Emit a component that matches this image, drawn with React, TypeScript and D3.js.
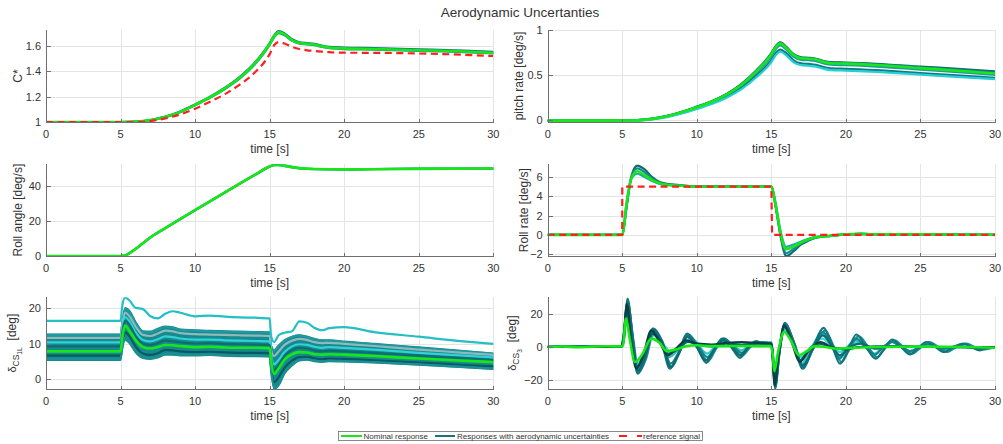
import React from "react";
import * as d3 from "d3";

type Pt = [number, number];

const WIDTH = 1003;
const HEIGHT = 444;

const figureTitle = "Aerodynamic Uncertanties";
const timeLabel = "time [s]";
const timeTicks = [0, 5, 10, 15, 20, 25, 30];
const legendLabels = ["Nominal response", "Responses with aerodynamic uncertainties", "reference signal"];

const NOMINAL = "#19e619";
const REFERENCE = "#ff1f1f";
const RUN_LEGEND = "#16747c";

// ---------- C* ----------
const cstarTime = [0, 5, 6, 7, 8, 9, 10, 11, 12, 13, 14, 15, 15.3, 15.6, 16, 16.5, 17, 17.5, 18, 18.5, 19, 20, 22, 25, 28, 30];
const cstarNominal = [1, 1, 1.003, 1.015, 1.04, 1.08, 1.135, 1.195, 1.265, 1.35, 1.46, 1.615, 1.675, 1.708, 1.69, 1.645, 1.622, 1.616, 1.61, 1.596, 1.586, 1.58, 1.575, 1.566, 1.556, 1.545];
const cstarReference = [1, 1, 1.0, 1.008, 1.028, 1.06, 1.105, 1.16, 1.22, 1.295, 1.39, 1.535, 1.605, 1.63, 1.618, 1.592, 1.575, 1.565, 1.56, 1.555, 1.55, 1.546, 1.545, 1.54, 1.53, 1.52];
const cstarRunHigh = [1, 1, 1.003, 1.016, 1.042, 1.083, 1.138, 1.199, 1.27, 1.356, 1.467, 1.622, 1.682, 1.716, 1.698, 1.652, 1.628, 1.622, 1.616, 1.602, 1.592, 1.587, 1.582, 1.573, 1.563, 1.553];
const cstarRunLow = [1, 1, 1.002, 1.014, 1.038, 1.077, 1.131, 1.19, 1.26, 1.344, 1.453, 1.607, 1.667, 1.7, 1.683, 1.639, 1.617, 1.611, 1.605, 1.591, 1.581, 1.575, 1.57, 1.561, 1.551, 1.54];

// ---------- pitch rate ----------
const pitchTime = [0, 5, 6, 7, 8, 9, 10, 11, 12, 13, 14, 15, 15.3, 15.6, 16, 16.5, 17, 17.5, 18, 18.5, 19, 20, 22, 25, 28, 30];
const pitchNominal = [-0.01, -0.01, -0.005, 0.01, 0.04, 0.085, 0.14, 0.2, 0.28, 0.39, 0.54, 0.73, 0.81, 0.85, 0.8, 0.72, 0.685, 0.68, 0.67, 0.645, 0.63, 0.625, 0.61, 0.575, 0.54, 0.515];
const pitchRunHigh = [-0.01, -0.01, -0.004, 0.012, 0.043, 0.089, 0.146, 0.207, 0.288, 0.4, 0.552, 0.742, 0.822, 0.862, 0.812, 0.73, 0.695, 0.69, 0.68, 0.655, 0.642, 0.638, 0.624, 0.592, 0.562, 0.538];
const pitchRunHigh2 = [-0.01, -0.01, -0.005, 0.011, 0.041, 0.087, 0.143, 0.204, 0.284, 0.395, 0.546, 0.736, 0.816, 0.856, 0.806, 0.725, 0.69, 0.686, 0.676, 0.651, 0.637, 0.632, 0.618, 0.585, 0.552, 0.528];
const pitchRunMid = [-0.012, -0.012, -0.006, 0.009, 0.037, 0.081, 0.135, 0.194, 0.272, 0.378, 0.525, 0.71, 0.788, 0.828, 0.782, 0.702, 0.668, 0.663, 0.653, 0.628, 0.613, 0.608, 0.593, 0.558, 0.524, 0.5];
const pitchRunLow = [-0.014, -0.014, -0.008, 0.006, 0.033, 0.075, 0.127, 0.184, 0.258, 0.357, 0.495, 0.668, 0.745, 0.782, 0.742, 0.662, 0.628, 0.622, 0.612, 0.588, 0.572, 0.567, 0.552, 0.52, 0.488, 0.467];
const pitchRunLowest = [-0.016, -0.016, -0.01, 0.004, 0.03, 0.07, 0.12, 0.175, 0.246, 0.342, 0.474, 0.642, 0.72, 0.758, 0.718, 0.64, 0.607, 0.602, 0.592, 0.568, 0.553, 0.548, 0.534, 0.503, 0.472, 0.452];

// ---------- roll angle ----------
const rollTime = [0, 5, 5.3, 5.6, 6, 6.5, 7, 8, 10, 12, 14, 15, 15.3, 15.6, 16, 16.5, 17, 18, 20, 22, 25, 30];
const rollNominal = [0, 0, 0.3, 1.6, 4.0, 7.3, 10.6, 15.9, 26.2, 36.3, 46.3, 51.1, 52, 52.1, 51.6, 50.8, 50.2, 49.7, 49.5, 49.6, 49.8, 50];
const rollRunA = [0, 0, 0.25, 1.5, 3.9, 7.2, 10.5, 15.8, 26.1, 36.2, 46.2, 51, 52.1, 52.3, 51.8, 50.9, 50.2, 49.6, 49.4, 49.6, 49.8, 50];
const rollRunB = [0, 0, 0.35, 1.7, 4.1, 7.4, 10.7, 16, 26.3, 36.4, 46.4, 51.2, 51.9, 51.9, 51.4, 50.6, 50.1, 49.7, 49.6, 49.7, 49.9, 50];

// ---------- roll rate ----------
const rateTime = [0, 5, 5.3, 5.6, 6, 6.5, 7, 7.5, 8, 9, 10, 12, 15, 15.3, 15.6, 16, 16.5, 17, 17.5, 18, 19, 20, 21, 22, 25, 30];
const rateNominal = [0, 0, 3.3, 5.8, 6.6, 6.2, 5.7, 5.35, 5.2, 5.1, 5.0, 5.0, 5.0, 3.0, 0.3, -1.5, -1.2, -0.8, -0.45, -0.25, -0.1, 0.05, 0.1, 0.05, 0.05, 0];
const rateRunHigh = [0, 0, 3.0, 6.0, 7.2, 6.8, 6.0, 5.5, 5.3, 5.15, 5.0, 5.0, 5.0, 2.8, 0.0, -2.2, -1.7, -1.0, -0.6, -0.3, -0.1, 0.05, 0.1, 0.05, 0.05, 0];
const rateRunMid = [0, 0, 3.1, 5.9, 6.9, 6.5, 5.85, 5.42, 5.25, 5.12, 5.0, 5.0, 5.0, 2.9, 0.15, -1.9, -1.45, -0.9, -0.52, -0.28, -0.1, 0.05, 0.1, 0.05, 0.05, 0];
const rateRunLow = [0, 0, 3.5, 5.8, 6.35, 6.0, 5.6, 5.3, 5.18, 5.08, 5.0, 5.0, 5.0, 3.2, 0.5, -1.25, -1.0, -0.7, -0.4, -0.22, -0.08, 0.05, 0.1, 0.05, 0.05, 0];
const rateRefTime = [0, 5, 5, 15, 15.05, 30];
const rateRefValue = [0, 0, 5, 5, 0, 0];

// ---------- delta CS 1L ----------
const cs1Time = [0, 5, 5.1, 5.3, 5.6, 6, 6.5, 7, 7.5, 8, 8.5, 9, 10, 11, 12, 13, 14, 15, 15.1, 15.3, 15.6, 16, 16.5, 17, 17.5, 18, 18.5, 19, 20, 22, 25, 28, 30];
const cs1Nominal = [7.8, 7.8, 11, 15, 13.5, 11, 9.0, 8.6, 9.0, 9.6, 9.5, 9.3, 9.0, 9.1, 8.9, 8.8, 8.8, 8.7, 5, 1.5, 3, 5.5, 7, 7.6, 7.5, 7.0, 6.9, 7.0, 6.9, 6.5, 5.8, 5.2, 4.8];
const cs1Outlier = [16.3, 16.3, 20, 22.8, 22, 20, 19.6, 17.6, 17, 18.3, 19, 18.6, 17.6, 17.8, 17.5, 17.3, 17.2, 17.0, 12, 10.4, 12.3, 13, 13.4, 16.2, 15.8, 14.4, 13.7, 14.3, 14.6, 13.2, 11.9, 10.6, 9.9];
const cs1BandHigh = [12.6, 12.6, 15.5, 20, 19.2, 16.2, 13.5, 13.4, 14.2, 14.8, 14.6, 14.0, 13.8, 13.6, 13.5, 13.4, 13.3, 13.2, 9.5, 8.2, 9.5, 11, 12, 12.4, 12, 11.4, 11, 11, 10.6, 10, 9, 8, 7.3];
const cs1BandLow = [5.3, 5.3, 8, 11, 10, 7.5, 5.9, 5.6, 6.0, 6.8, 6.8, 6.6, 6.6, 6.7, 6.5, 6.4, 6.4, 6.3, 2, -2.7, -1.8, 1.5, 3.8, 5.2, 5.4, 5.0, 4.8, 5.0, 4.9, 4.6, 4.0, 3.3, 2.8];
const cs1RunA = [12.4, 12.4, 15.2, 19.6, 18.8, 15.8, 13.2, 13.1, 13.9, 14.6, 14.4, 13.8, 13.6, 13.4, 13.3, 13.2, 13.1, 13.0, 9.2, 8.0, 9.3, 10.8, 11.8, 12.2, 11.8, 11.2, 10.8, 10.8, 10.4, 9.8, 8.8, 7.8, 7.1];
const cs1RunB = [11.6, 11.6, 14.6, 18.6, 17.6, 14.8, 12.4, 12.1, 12.8, 13.6, 13.4, 12.9, 12.6, 12.5, 12.4, 12.3, 12.2, 12.1, 8.2, 6.5, 7.8, 9.6, 10.8, 11.3, 11.0, 10.4, 10.1, 10.2, 9.9, 9.3, 8.3, 7.4, 6.8];
const cs1RunC = [10.3, 10.3, 13.4, 17.4, 16.2, 13.2, 11.0, 10.6, 11.2, 12.0, 11.8, 11.4, 11.1, 11.1, 10.9, 10.8, 10.7, 10.6, 6.8, 4.2, 5.4, 7.6, 9.2, 9.8, 9.6, 9.1, 8.8, 9.0, 8.8, 8.3, 7.4, 6.6, 6.1];
const cs1RunD = [9.2, 9.2, 12.4, 16.4, 15.2, 12.2, 10.0, 9.6, 10.1, 10.8, 10.6, 10.3, 10.0, 10.1, 9.9, 9.8, 9.7, 9.6, 5.8, 2.6, 4.0, 6.6, 8.2, 8.8, 8.6, 8.1, 7.8, 8.0, 7.8, 7.4, 6.6, 5.9, 5.4];
const cs1RunE = [6.6, 6.6, 9.6, 13.2, 12.0, 9.2, 7.2, 6.8, 7.3, 8.2, 8.1, 7.8, 7.6, 7.7, 7.5, 7.4, 7.4, 7.3, 3.5, -0.8, 0.6, 3.2, 5.2, 6.2, 6.3, 5.9, 5.6, 5.8, 5.7, 5.3, 4.7, 4.0, 3.6];
const cs1RunF = [5.6, 5.6, 8.4, 11.6, 10.6, 8.0, 6.3, 5.9, 6.3, 7.1, 7.0, 6.9, 6.8, 6.9, 6.7, 6.6, 6.6, 6.5, 2.4, -2.3, -1.4, 1.9, 4.1, 5.4, 5.6, 5.2, 5.0, 5.2, 5.1, 4.8, 4.2, 3.5, 3.0];

// ---------- delta CS 3 (time, value) pairs ----------
const cs3Nominal: Pt[] = [[0, 0], [1, 0.3], [2, -0.2], [3, 0.2], [4, 0.4], [4.9, 0.3], [5.05, 1], [5.25, 17], [5.5, 5], [5.85, -9], [6.3, -5], [6.95, 5], [7.5, 2.5], [8.0, -2.5], [8.6, -1.5], [9.3, 0.5], [10, 1], [11, 0.5], [12, 0.5], [13, 0.6], [14, 0.5], [14.95, 0.5], [15.1, -5], [15.2, -14.5], [15.45, -3], [15.85, 9], [16.3, 4], [16.85, -5], [17.3, -3], [17.9, 0.5], [18.6, 0], [19.4, -1], [20, -0.8], [21, -0.3], [22, 0], [25, 0.2], [28, 0], [30, -0.5]];
const cs3RunA: Pt[] = [[0, 0.2], [4.95, 0.5], [5.1, 8], [5.35, 29], [5.7, 5], [6.05, -16], [6.5, -8], [7.05, 11], [7.6, 4], [8.2, -13], [8.75, -4], [9.35, 8], [10.0, 0], [10.65, -9.5], [11.15, -2], [11.7, 5], [12.3, 0], [12.9, -6.5], [13.45, 0], [14.0, 3.5], [14.5, 1], [15.0, 1.5], [15.1, -8], [15.25, -25], [15.55, -3], [15.9, 14], [16.5, 3], [17.1, -13], [17.8, 0], [18.5, 11.5], [19.0, 3], [19.6, -10], [20.1, -3], [20.7, 7.5], [21.35, 0], [22.0, -7], [22.5, -2], [23.1, 4.5], [23.7, 0], [24.3, -4.5], [24.8, -1], [25.4, 3], [26.0, 0], [26.6, -3], [27.2, 0], [27.9, 2], [28.4, 0], [29.0, -2], [29.5, -0.5], [30, -0.5]];
const cs3RunB: Pt[] = [[0, 0], [4.95, 0.3], [5.1, 6], [5.35, 27], [5.75, 4], [6.1, -15], [6.6, -7], [7.15, 10], [7.7, 3], [8.3, -12], [8.85, -3], [9.45, 7.5], [10.1, 0], [10.75, -8.5], [11.3, -1], [11.85, 5], [12.45, 0], [13.0, -5.5], [13.6, 0], [14.15, 3], [14.6, 1.5], [15.0, 2], [15.1, -6], [15.25, -22], [15.55, -2], [15.95, 13], [16.55, 2], [17.15, -12], [17.85, 0], [18.6, 10], [19.1, 2], [19.7, -9], [20.2, -2], [20.85, 6.5], [21.5, 0], [22.1, -6], [22.6, -1], [23.25, 4], [23.85, 0], [24.45, -4], [25.0, -0.5], [25.6, 3], [26.2, 0], [26.8, -3], [27.4, 0], [28.1, 2], [28.6, 0], [29.2, -1.5], [30, 0]];
const cs3RunC: Pt[] = [[0, 0.3], [4.95, 0.5], [5.1, 5], [5.3, 24], [5.7, 3], [6.0, -14], [6.5, -5], [7.0, 9], [7.6, 3], [8.15, -6], [8.8, -1], [9.4, 6], [10.1, 1], [10.7, -4], [11.3, 1], [11.8, 4], [12.4, 1], [13.0, -2], [13.6, 1.5], [14.2, 3], [15.0, 2.5], [15.1, -4], [15.25, -20], [15.55, -1], [15.9, 12], [16.5, 2], [17.05, -10], [17.7, 0], [18.4, 8], [19.0, 1], [19.5, -6], [20.0, -1], [20.6, 4], [21.3, 0], [21.9, -4], [22.5, 0], [23.1, 3], [23.7, 0], [24.3, -2.5], [25, 0], [25.5, 2], [26.2, 0], [26.8, -1.5], [27.5, 0], [28.1, 1.5], [29, -1], [30, 0]];
const cs3RunD: Pt[] = [[0, 0], [4.95, 0.2], [5.1, 4], [5.3, 22], [5.6, 4], [5.95, -12], [6.4, -6], [7.0, 8], [7.6, 3], [8.1, -4], [8.7, -1.5], [9.4, 3], [10, 1.5], [11, 0.5], [12, 2], [13, 1.5], [14, 2], [15, 2], [15.1, -5], [15.2, -20], [15.5, -3], [15.85, 12], [16.4, 3], [16.9, -8], [17.5, -2], [18.2, 2], [19, 0], [19.8, -1], [21, 0], [23, 0.5], [26, 0], [30, -0.5]];
const cs3RunE: Pt[] = [[0, 0], [4.95, 0], [5.1, 5], [5.3, 26], [5.6, 3], [5.95, -13], [6.4, -5], [6.95, 10], [7.5, 3], [8.05, -5], [8.6, -1], [9.3, 4], [10, 2], [11, 1.5], [12, 2.5], [13, 3], [14, 2.5], [15, 2], [15.1, -6], [15.2, -23], [15.5, -4], [15.85, 13], [16.4, 2], [16.9, -9], [17.6, -1], [18.3, 3], [19, 0], [20, -1.5], [21, 0], [23, 0], [30, 0]];
const cs3RunF: Pt[] = [[0, 0.2], [5, 0.5], [5.1, 4], [5.3, 18], [5.6, 3], [5.95, -10], [6.5, -3], [7.1, 7], [7.7, 2], [8.3, -3], [9.0, 0.5], [9.6, 5], [10.3, 1], [11, 0], [12, 3.5], [12.5, 1], [13.5, 1], [15, 3], [15.1, -3], [15.2, -16], [15.5, -2], [15.9, 10], [16.5, 1], [17.0, -6], [17.7, 0], [18.4, 5], [19.1, 0], [19.6, -3], [20.3, 1], [20.9, 3], [21.6, 0], [22.2, -1], [23, 0.5], [24, 0], [30, 0]];
const cs3RunG: Pt[] = [[0, 0], [4.95, 0.4], [5.1, 7], [5.35, 28], [5.7, 6], [6.0, -15.5], [6.5, -7], [7.1, 11], [7.65, 4], [8.25, -10], [8.8, -3], [9.4, 7], [10.05, 1], [10.7, -6], [11.3, 0], [11.8, 5], [12.4, 1], [13.0, -3.5], [13.6, 1], [14.1, 3], [15.0, 2], [15.1, -7], [15.25, -24], [15.55, -3], [15.9, 14.5], [16.5, 3], [17.1, -12], [17.8, -1], [18.45, 9], [19.0, 2], [19.55, -7], [20.1, -1], [20.7, 5], [21.3, 0], [21.95, -4.5], [22.5, 0], [23.1, 3], [23.7, 0], [24.3, -2.5], [25, 0], [25.5, 1.5], [26.5, -1], [27.5, 0.5], [28.5, -0.5], [30, 0]];
const cs3RunH: Pt[] = [[0, 0.1], [4.95, 0.2], [5.1, 6], [5.35, 25], [5.7, 2], [6.05, -14], [6.55, -5], [7.1, 10], [7.65, 3], [8.25, -12], [8.8, -4], [9.35, 6], [10.0, 0], [10.6, -8], [11.2, -1], [11.75, 4], [12.35, 0], [12.9, -5], [13.5, 0], [14.1, 2.5], [15, 1], [15.1, -6], [15.25, -23], [15.55, -2], [15.9, 13], [16.5, 1], [17.1, -11], [17.8, -1], [18.45, 7], [19.1, 0], [19.6, -5], [20.3, 0], [21, 2], [22, -1], [23, 0.5], [25, 0], [30, 0]];

const zipSeries = (t: number[], v: number[]): Pt[] => t.map((ti, i) => [ti, v[i]] as Pt);

interface LabelPart { text: string; size: number; dy?: number; dx?: number; }

interface PanelSpec {
  id: string;
  col: number;
  row: number;
  yDomain: [number, number];
  yTicks: number[];
  yLabel: LabelPart[];
  labelX: number;
  nominal: Pt[];
  runs: Pt[][];
  runColors: string[];
  reference?: Pt[];
  referenceStep?: boolean;
  band?: { t: number[]; lo: number[]; hi: number[]; fill: string };
}

const colX: [number, number][] = [[46, 493.3], [547.7, 995]];
const rowY: [number, number][] = [[30, 122], [164.3, 256], [297.3, 389]];

const panels: PanelSpec[] = [
  {
    id: "cstar", col: 0, row: 0, yDomain: [1, 1.725], yTicks: [1, 1.2, 1.4, 1.6],
    yLabel: [{ text: "C*", size: 12 }], labelX: 22,
    nominal: zipSeries(cstarTime, cstarNominal),
    runs: [zipSeries(cstarTime, cstarRunHigh), zipSeries(cstarTime, cstarRunLow)],
    runColors: ["#136f86", "#1b8e95"],
    reference: zipSeries(cstarTime, cstarReference),
  },
  {
    id: "pitch", col: 1, row: 0, yDomain: [-0.025, 1], yTicks: [0, 0.5, 1],
    yLabel: [{ text: "pitch rate [deg/s]", size: 12 }], labelX: 523,
    nominal: zipSeries(pitchTime, pitchNominal),
    runs: [
      zipSeries(pitchTime, pitchRunHigh),
      zipSeries(pitchTime, pitchRunHigh2),
      zipSeries(pitchTime, pitchRunMid),
      zipSeries(pitchTime, pitchRunLow),
      zipSeries(pitchTime, pitchRunLowest),
    ],
    runColors: ["#0d666c", "#138088", "#1b9ba0", "#137a80", "#22d0d6"],
  },
  {
    id: "roll", col: 0, row: 1, yDomain: [0, 52.4], yTicks: [0, 20, 40],
    yLabel: [{ text: "Roll angle [deg/s]", size: 12 }], labelX: 22,
    nominal: zipSeries(rollTime, rollNominal),
    runs: [zipSeries(rollTime, rollRunA), zipSeries(rollTime, rollRunB)],
    runColors: ["#1b7f97", "#1a9196"],
  },
  {
    id: "rate", col: 1, row: 1, yDomain: [-2.2, 7.33], yTicks: [-2, 0, 2, 4, 6],
    yLabel: [{ text: "Roll rate [deg/s]", size: 12 }], labelX: 528,
    nominal: zipSeries(rateTime, rateNominal),
    runs: [zipSeries(rateTime, rateRunHigh), zipSeries(rateTime, rateRunMid), zipSeries(rateTime, rateRunLow)],
    runColors: ["#0f6a70", "#178a90", "#1fa6aa"],
    reference: zipSeries(rateRefTime, rateRefValue),
    referenceStep: true,
  },
  {
    id: "cs1l", col: 0, row: 2, yDomain: [-2.7, 22.9], yTicks: [0, 10, 20],
    yLabel: [
      { text: "δ", size: 11 },
      { text: "CS", size: 8.5, dy: 3 },
      { text: "1L", size: 6.5, dy: 2.5 },
      { text: "[deg]", size: 12, dy: -5.5, dx: 7 },
    ],
    labelX: 16,
    nominal: zipSeries(cs1Time, cs1Nominal),
    runs: [
      zipSeries(cs1Time, cs1RunA),
      zipSeries(cs1Time, cs1RunB),
      zipSeries(cs1Time, cs1RunC),
      zipSeries(cs1Time, cs1RunD),
      zipSeries(cs1Time, cs1RunE),
      zipSeries(cs1Time, cs1RunF),
      zipSeries(cs1Time, cs1Outlier),
    ],
    runColors: ["#1c9a9f", "#8fb9ba", "#2fd3d6", "#0d6d73", "#085a60", "#1a8f94", "#22bfc4"],
    band: { t: cs1Time, lo: cs1BandLow, hi: cs1BandHigh, fill: "#178a8f" },
  },
  {
    id: "cs3", col: 1, row: 2, yDomain: [-25.2, 29.8], yTicks: [-20, 0, 20],
    yLabel: [
      { text: "δ", size: 11 },
      { text: "CS", size: 8.5, dy: 3 },
      { text: "3", size: 6.5, dy: 2.5 },
      { text: "[deg]", size: 12, dy: -5.5, dx: 7 },
    ],
    labelX: 516,
    nominal: cs3Nominal,
    runs: [cs3RunF, cs3RunC, cs3RunB, cs3RunG, cs3RunA, cs3RunH, cs3RunD, cs3RunE],
    runColors: ["#3fd6d8", "#2bc4c7", "#1a9297", "#158289", "#11767c", "#0f6b71", "#0b5f65", "#083f45"],
  },
];

const AXIS = "#707070";
const GRID = "#e4e4e4";
const TEXT = "#333333";

function fmtTick(v: number): string {
  return d3.format("~g")(v);
}

function Panel({ spec }: { spec: PanelSpec }) {
  const [x0, x1] = colX[spec.col];
  const [yTop, yBottom] = rowY[spec.row];
  const x = d3.scaleLinear().domain([0, 30]).range([x0, x1]);
  const y = d3.scaleLinear().domain(spec.yDomain).range([yBottom, yTop]);

  const smooth = d3.line<Pt>().x((d) => x(d[0])).y((d) => y(d[1])).curve(d3.curveMonotoneX);
  const straight = d3.line<Pt>().x((d) => x(d[0])).y((d) => y(d[1]));

  const clipId = `clip-${spec.id}`;
  const axX = Math.round(x0) + 0.5;
  const axY = Math.round(yBottom) + 0.5;

  let bandPath: string | null = null;
  if (spec.band) {
    const b = spec.band;
    const area = d3
      .area<number>()
      .x((_, i) => x(b.t[i]))
      .y0((_, i) => y(b.lo[i]))
      .y1((_, i) => y(b.hi[i]))
      .curve(d3.curveMonotoneX);
    bandPath = area(b.t);
  }

  const labelCy = (yTop + yBottom) / 2;

  return (
    <g>
      <defs>
        <clipPath id={clipId}>
          <rect x={x0} y={yTop} width={x1 - x0} height={yBottom - yTop} />
        </clipPath>
      </defs>
      {/* grid */}
      <g stroke={GRID} strokeWidth={1} shapeRendering="crispEdges">
        {timeTicks.map((t) => (
          <line key={`gx${t}`} x1={Math.round(x(t)) + 0.5} x2={Math.round(x(t)) + 0.5} y1={yTop} y2={yBottom} />
        ))}
        {spec.yTicks.map((v) => (
          <line key={`gy${v}`} x1={x0} x2={x1} y1={Math.round(y(v)) + 0.5} y2={Math.round(y(v)) + 0.5} />
        ))}
      </g>
      {/* data */}
      <g clipPath={`url(#${clipId})`} fill="none" strokeLinejoin="round" strokeLinecap="round">
        {bandPath && <path d={bandPath} fill={spec.band!.fill} stroke={spec.band!.fill} strokeWidth={1.5} />}
        {spec.runs.map((r, i) => (
          <path key={`run${i}`} d={smooth(r) ?? ""} stroke={spec.runColors[i % spec.runColors.length]} strokeWidth={2.2} />
        ))}
        <path d={smooth(spec.nominal) ?? ""} stroke={NOMINAL} strokeWidth={2.6} />
        {spec.reference && (
          <path
            d={(spec.referenceStep ? straight(spec.reference) : smooth(spec.reference)) ?? ""}
            stroke={REFERENCE}
            strokeWidth={2.2}
            strokeDasharray="7 4.5"
            strokeLinecap="butt"
          />
        )}
      </g>
      {/* axes */}
      <g stroke={AXIS} strokeWidth={1} shapeRendering="crispEdges">
        <line x1={axX} x2={axX} y1={yTop} y2={axY} />
        <line x1={axX} x2={x1} y1={axY} y2={axY} />
        {timeTicks.map((t) => (
          <line key={`tx${t}`} x1={Math.round(x(t)) + 0.5} x2={Math.round(x(t)) + 0.5} y1={axY} y2={axY - 4} />
        ))}
        {spec.yTicks.map((v) => (
          <line key={`ty${v}`} x1={axX} x2={axX + 4} y1={Math.round(y(v)) + 0.5} y2={Math.round(y(v)) + 0.5} />
        ))}
      </g>
      <g fill={TEXT} fontSize={11}>
        {timeTicks.map((t) => (
          <text key={`lx${t}`} x={x(t)} y={yBottom + 15.5} textAnchor="middle">
            {fmtTick(t)}
          </text>
        ))}
        {spec.yTicks.map((v) => (
          <text key={`ly${v}`} x={x0 - 5} y={y(v) + 4} textAnchor="end">
            {fmtTick(v)}
          </text>
        ))}
      </g>
      <text x={(x0 + x1) / 2} y={yBottom + 30.5} textAnchor="middle" fontSize={12} fill={TEXT}>
        {timeLabel}
      </text>
      <text
        transform={`translate(${spec.labelX},${labelCy}) rotate(-90)`}
        textAnchor="middle"
        fill={TEXT}
      >
        {spec.yLabel.map((p, i) => (
          <tspan key={i} fontSize={p.size} dy={p.dy ?? 0} dx={p.dx ?? 0}>
            {p.text}
          </tspan>
        ))}
      </text>
    </g>
  );
}

function Legend() {
  const yMid = 436;
  return (
    <g fontSize={8} fill={TEXT}>
      <rect x={338.5} y={431.5} width={364} height={9} fill="#ffffff" stroke="#6e6e6e" strokeWidth={0.8} />
      <line x1={341} x2={362} y1={yMid} y2={yMid} stroke={NOMINAL} strokeWidth={2} />
      <text x={363.5} y={439}>{legendLabels[0]}</text>
      <line x1={435} x2={455} y1={yMid} y2={yMid} stroke={RUN_LEGEND} strokeWidth={2} />
      <text x={457} y={439}>{legendLabels[1]}</text>
      <line x1={619} x2={642} y1={yMid} y2={yMid} stroke={REFERENCE} strokeWidth={2} strokeDasharray="8 10" />
      <text x={643} y={439}>{legendLabels[2]}</text>
    </g>
  );
}

export default function App() {
  return (
    <svg
      width={WIDTH}
      height={HEIGHT}
      viewBox={`0 0 ${WIDTH} ${HEIGHT}`}
      style={{ position: "absolute", left: 0, top: 0, background: "#ffffff" }}
      fontFamily="'Liberation Sans', Arial, Helvetica, sans-serif"
    >
      <rect width={WIDTH} height={HEIGHT} fill="#ffffff" />
      <text x={520} y={16.5} textAnchor="middle" fontSize={13.5} fill={TEXT}>
        {figureTitle}
      </text>
      {panels.map((p) => (
        <Panel key={p.id} spec={p} />
      ))}
      <Legend />
    </svg>
  );
}
